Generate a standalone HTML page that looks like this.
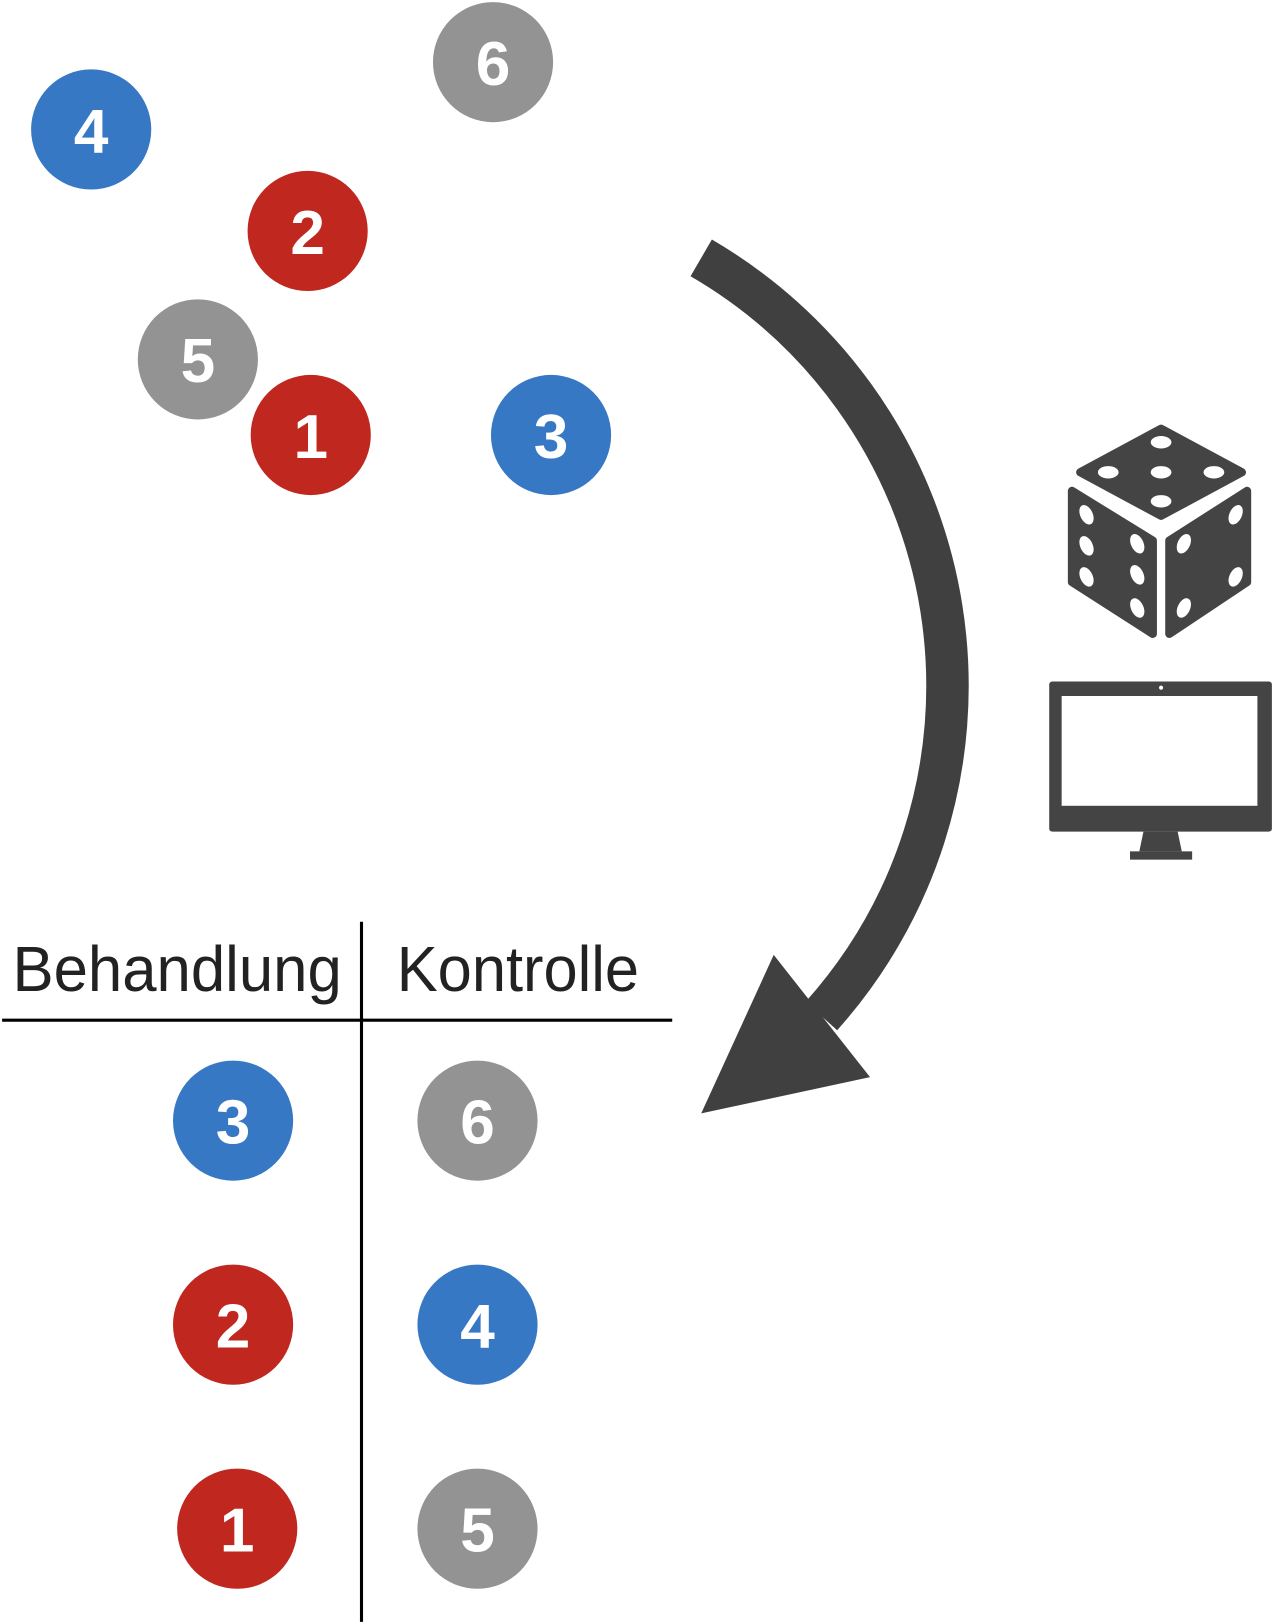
<!DOCTYPE html>
<html><head><meta charset="utf-8"><style>
html,body{margin:0;padding:0;background:#fff;}
svg{display:block;}
text{font-family:"Liberation Sans",sans-serif;}
</style></head><body>
<svg width="1274" height="1624" viewBox="0 0 1230 1568" xmlns="http://www.w3.org/2000/svg">
<rect width="1230" height="1568" fill="#fff"/>
<g font-size="60" font-weight="bold" fill="#fff" text-anchor="middle">
<circle cx="476" cy="60" r="58" fill="#939393"/><text x="476" y="82">6</text>
<circle cx="88" cy="125" r="58" fill="#3778C5"/><text x="88" y="147">4</text>
<circle cx="297" cy="223" r="58" fill="#BF271F"/><text x="297" y="245">2</text>
<circle cx="191" cy="347" r="58" fill="#939393"/><text x="191" y="369">5</text>
<circle cx="300" cy="420" r="58" fill="#BF271F"/><text x="300" y="442">1</text>
<circle cx="532" cy="420" r="58" fill="#3778C5"/><text x="532" y="442">3</text>
<circle cx="225" cy="1082" r="58" fill="#3778C5"/><text x="225" y="1104">3</text>
<circle cx="461" cy="1082" r="58" fill="#939393"/><text x="461" y="1104">6</text>
<circle cx="225" cy="1279" r="58" fill="#BF271F"/><text x="225" y="1301">2</text>
<circle cx="461" cy="1279" r="58" fill="#3778C5"/><text x="461" y="1301">4</text>
<circle cx="229" cy="1476" r="58" fill="#BF271F"/><text x="229" y="1498">1</text>
<circle cx="461" cy="1476" r="58" fill="#939393"/><text x="461" y="1498">5</text>
</g>
<text x="12" y="957" font-size="62" fill="#222" textLength="318" lengthAdjust="spacingAndGlyphs">Behandlung</text>
<text x="383" y="957" font-size="62" fill="#222" textLength="234" lengthAdjust="spacingAndGlyphs">Kontrolle</text>
<line x1="2" y1="985" x2="649" y2="985" stroke="#000" stroke-width="3"/>
<line x1="349" y1="890" x2="349" y2="1566" stroke="#000" stroke-width="3"/>
<path d="M677 249 A478 478 0 0 1 793 981" fill="none" stroke="#404040" stroke-width="41"/>
<polygon points="747,922 840,1040 677,1075" fill="#404040"/>
<g fill="#444" stroke="#444" stroke-width="8" stroke-linejoin="round">
<polygon points="1121,414 1199,456 1121,498 1043,456"/>
<polygon points="1035,474 1113,522 1113,612 1035,562"/>
<polygon points="1129,522 1204,474 1204,562 1129,612"/>
</g>
<g fill="#fff">
<ellipse cx="1121" cy="427" rx="10" ry="6"/><ellipse cx="1070" cy="456" rx="10" ry="6"/><ellipse cx="1121" cy="456" rx="10" ry="6"/><ellipse cx="1172" cy="456" rx="10" ry="6"/><ellipse cx="1121" cy="484" rx="10" ry="6"/>
<ellipse cx="1049" cy="497" rx="6" ry="10" transform="rotate(-25 1049 497)"/>
<ellipse cx="1049" cy="527" rx="6" ry="10" transform="rotate(-25 1049 527)"/>
<ellipse cx="1049" cy="557" rx="6" ry="10" transform="rotate(-25 1049 557)"/>
<ellipse cx="1098" cy="525" rx="6" ry="10" transform="rotate(-25 1098 525)"/>
<ellipse cx="1098" cy="555" rx="6" ry="10" transform="rotate(-25 1098 555)"/>
<ellipse cx="1098" cy="587" rx="6" ry="10" transform="rotate(-25 1098 587)"/>
<ellipse cx="1193" cy="497" rx="6" ry="10" transform="rotate(25 1193 497)"/>
<ellipse cx="1143" cy="525" rx="6" ry="10" transform="rotate(25 1143 525)"/>
<ellipse cx="1193" cy="557" rx="6" ry="10" transform="rotate(25 1193 557)"/>
<ellipse cx="1143" cy="587" rx="6" ry="10" transform="rotate(25 1143 587)"/>
</g>
<rect x="1013" y="658" width="215" height="145" rx="3" fill="#444"/>
<rect x="1025" y="672" width="189" height="106" fill="#fff"/>
<circle cx="1121" cy="664" r="2" fill="#fff"/>
<polygon points="1104,803 1137,803 1141,822 1100,822" fill="#444"/>
<rect x="1091" y="822" width="60" height="8" fill="#444"/>
</svg>
</body></html>
